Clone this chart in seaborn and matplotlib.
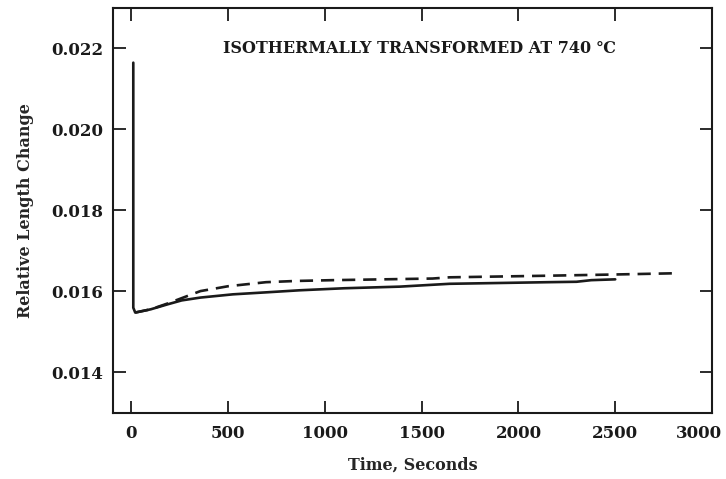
#!/usr/bin/env python3
"""
Dilatometer curve: relative length change vs time at 740 C
"""

import matplotlib
matplotlib.use("Agg")
import matplotlib.pyplot as plt
import matplotlib.transforms as mtransforms
import numpy as np
import pandas as pd
import seaborn as sns

# solid curve
solid_time = [10, 10, 20, 100, 185, 260, 357, 525, 700, 870, 1100, 1387, 1644, 1900, 2155, 2300, 2376, 2500]
solid_change = [0.02165, 0.01560, 0.01548, 0.01556, 0.01568, 0.01578, 0.01585, 0.01593, 0.01598, 0.01603,
                0.01608, 0.01612, 0.01619, 0.01621, 0.01623, 0.01624, 0.01628, 0.01630]

# dashed curve
dashed_time = [20, 100, 185, 268, 357, 500, 696, 850, 1041, 1300, 1556, 1644, 1900, 2155, 2500, 2809]
dashed_change = [0.01548, 0.01556, 0.01570, 0.01585, 0.01601, 0.01613, 0.01623, 0.01626, 0.01628, 0.01630,
                 0.01632, 0.01635, 0.01637, 0.01639, 0.01642, 0.01645]

x_ticks = [0, 500, 1000, 1500, 2000, 2500, 3000]
y_ticks = [0.014, 0.016, 0.018, 0.020, 0.022]

sns.set_theme(style="ticks")
plt.rcParams['font.family'] = ['DejaVu Serif', 'DejaVu Sans']
plt.rcParams['font.weight'] = 'bold'

solid_df = pd.DataFrame({'t': solid_time, 'dl': solid_change})
dashed_df = pd.DataFrame({'t': dashed_time, 'dl': dashed_change})

fig = plt.figure(figsize=(7.26, 4.79), dpi=100)
ax = fig.add_axes([0.1556, 0.1378, 0.8251, 0.8455])

ink = '#1a1a1a'
sns.lineplot(data=solid_df, x='t', y='dl', sort=False, estimator=None, color=ink,
             linewidth=1.9, ax=ax)
sns.lineplot(data=dashed_df, x='t', y='dl', sort=False, estimator=None, color=ink,
             linewidth=1.9, linestyle=(0, (5, 3)), ax=ax)

ax.set_xlim(-95, 3000)
ax.set_ylim(0.013, 0.023)
ax.set_xticks(x_ticks)
ax.set_yticks(y_ticks)
ax.set_yticklabels([f"{v:.3f}" for v in y_ticks])

ax.tick_params(direction='in', length=9, width=1.3, top=True, right=True,
               labelsize=12, colors=ink)
ax.tick_params(axis='x', pad=9)
ax.tick_params(axis='y', pad=7)
for label in ax.get_xticklabels() + ax.get_yticklabels():
    label.set_fontweight('bold')

# last x label sits at the right border in the original
last = ax.get_xticklabels()[-1]
last.set_horizontalalignment('right')
last.set_transform(last.get_transform() + mtransforms.ScaledTranslation(0.1, 0, fig.dpi_scale_trans))

for sp in ax.spines.values():
    sp.set_linewidth(1.5)
    sp.set_color(ink)

ax.set_xlabel('Time, Seconds', fontsize=11.5, fontweight='bold', labelpad=10)
ax.set_ylabel('Relative Length Change', fontsize=11.5, fontweight='bold', labelpad=12)

ax.text(0.512, 0.899, 'ISOTHERMALLY TRANSFORMED AT 740 \u2103', transform=ax.transAxes,
        ha='center', va='center', fontsize=11.5, fontweight='bold', color=ink)

fig.savefig('out.png', dpi=100)
